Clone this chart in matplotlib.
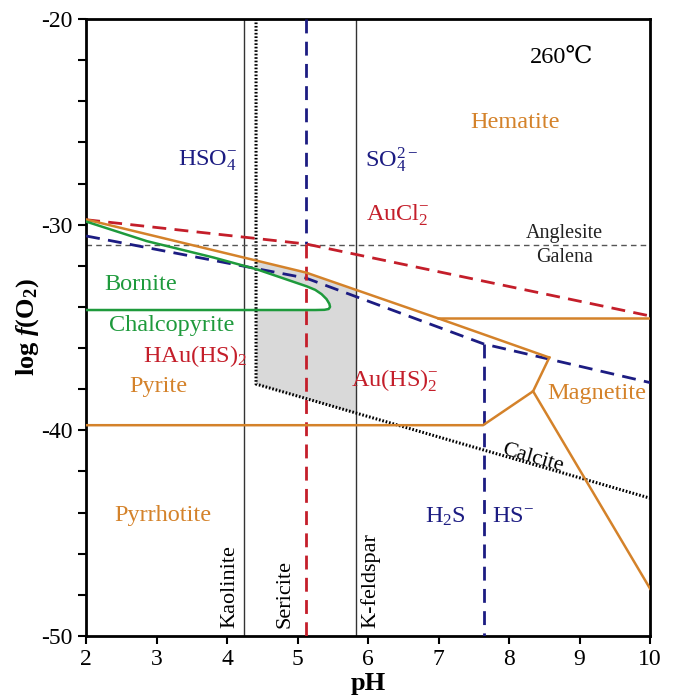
import numpy as np
import matplotlib
matplotlib.use("Agg")
import matplotlib.pyplot as plt

# ---------------------------------------------------------------------------
# Phase boundaries (pH, log fO2)
# ---------------------------------------------------------------------------
PH_KAOLINITE = 4.24
PH_KFELDSPAR = 5.83
PH_HSO4_SO4 = 5.12          # HSO4-/SO4 2- and HAu(HS)2/Au(HS)2- boundary
PH_H2S_HS = 7.64
ANGLESITE_LF = -31.0

# Au complex boundary (red dashed)
red_ph = [2.0, 5.12, 10.0]
red_lf = [-29.76, -30.94, -34.44]

# sulfate / sulfide boundary (blue dashed)
blue_ph = [2.0, 5.12, 7.64, 10.0]
blue_lf = [-30.55, -32.60, -35.80, -37.68]

# pyrite upper boundary (orange)
py_top_ph = [2.0, 5.12, 6.99, 8.57]
py_top_lf = [-29.75, -32.33, -34.55, -36.46]
hem_mag_ph = [6.99, 10.0]
hem_mag_lf = [-34.55, -34.55]
py_mag_ph = [8.57, 8.34, 7.63, 2.0]
py_mag_lf = [-36.46, -38.10, -39.75, -39.75]
po_mag_ph = [8.34, 10.0]
po_mag_lf = [-38.10, -47.70]

# calcite (black dotted)
cal_ph = [4.41, 4.41, 10.0]
cal_lf = [-20.0, -37.75, -43.30]

# bornite / chalcopyrite (green)
bn_ph = [2.0, 2.86, 3.81, 4.42, 5.13, 5.25, 5.34, 5.41, 5.45, 5.46, 5.44, 5.38, 5.25, 2.0]
bn_lf = [-29.85, -30.80, -31.60, -32.17, -33.00, -33.17, -33.38, -33.62,
         -33.85, -34.00, -34.10, -34.14, -34.15, -34.15]

ORANGE = "#d4822a"
RED = "#c41e2a"
NAVY = "#1c1c82"
GREEN = "#1e9a3c"

plt.rcParams["font.family"] = ["Liberation Serif", "DejaVu Serif", "Noto Sans CJK SC"]
plt.rcParams["mathtext.fontset"] = "custom"
plt.rcParams["mathtext.rm"] = "Liberation Serif"
plt.rcParams["mathtext.it"] = "Liberation Serif:italic"
plt.rcParams["mathtext.bf"] = "Liberation Serif:bold"
plt.rcParams["mathtext.bfit"] = "Liberation Serif:italic:bold"
plt.rcParams["lines.scale_dashes"] = False
plt.rcParams["axes.unicode_minus"] = False

fig = plt.figure(figsize=(6.73, 6.98), dpi=100)
ax = fig.add_axes([0.128, 0.0888, 0.838, 0.884])
ax.set_xlim(2, 10)
ax.set_ylim(-50, -20)

# grey field: between pyrite top and calcite, from the calcite edge to K-feldspar
gx = np.linspace(cal_ph[1], PH_KFELDSPAR, 60)
top = np.interp(gx, py_top_ph, py_top_lf)
bot = np.interp(gx, cal_ph[1:], cal_lf[1:])
ax.fill_between(gx, bot, top, color="#d9d9d9", lw=0, zorder=0.5)
ax.fill(bn_ph, bn_lf, color="white", lw=0, zorder=0.6)

# mineral verticals
for x in (PH_KAOLINITE, PH_KFELDSPAR):
    ax.plot([x, x], [-50, -20], color="#333333", lw=1.0, zorder=2)

# calcite
ax.plot(cal_ph, cal_lf, color="black", lw=2.2, dashes=(1.2, 1.3), zorder=2)

# anglesite / galena
ax.plot([2, 10], [ANGLESITE_LF] * 2, color="#555555", lw=1.0, dashes=(4, 3), zorder=2)

# sulfur species (navy dashed)
blue_at = np.interp(PH_H2S_HS, blue_ph, blue_lf)
red_at = np.interp(PH_HSO4_SO4, red_ph, red_lf)
ax.plot(blue_ph, blue_lf, color=NAVY, lw=2.0, dashes=(10, 6), zorder=3)
ax.plot([PH_HSO4_SO4] * 2, [-20, red_at], color=NAVY, lw=2.0, dashes=(10, 6), zorder=3)
ax.plot([PH_H2S_HS] * 2, [blue_at, -50], color=NAVY, lw=2.0, dashes=(10, 6), zorder=3)

# gold complexes (red dashed)
ax.plot(red_ph, red_lf, color=RED, lw=2.0, dashes=(10, 6), zorder=3)
ax.plot([PH_HSO4_SO4] * 2, [red_at, -50], color=RED, lw=2.0, dashes=(10, 6), zorder=3)

# iron minerals (orange)
for xs, ys in ((py_top_ph, py_top_lf), (hem_mag_ph, hem_mag_lf),
               (py_mag_ph, py_mag_lf), (po_mag_ph, po_mag_lf)):
    ax.plot(xs, ys, color=ORANGE, lw=1.8, zorder=4)

# copper minerals (green)
ax.plot(bn_ph, bn_lf, color=GREEN, lw=1.8, zorder=4)

# labels
fs = 17.5
ax.text(8.75, -21.85, "260\u2103", fontsize=fs, ha="center", va="center")
ax.text(8.09, -25.05, "Hematite", color=ORANGE, fontsize=fs, ha="center", va="center")
ax.text(3.73, -26.9, r"HSO$_4^{-}$", color=NAVY, fontsize=fs, ha="center", va="center")
ax.text(6.33, -26.9, r"SO$_4^{2-}$", color=NAVY, fontsize=fs, ha="center", va="center")
ax.text(6.42, -29.55, r"AuCl$_2^{-}$", color=RED, fontsize=fs, ha="center", va="center")
ax.text(8.79, -30.45, "Anglesite", fontsize=14.5, ha="center", va="center", color="#222222")
ax.text(8.79, -31.6, "Galena", fontsize=14.5, ha="center", va="center", color="#222222")
ax.text(2.77, -32.9, "Bornite", color=GREEN, fontsize=fs, ha="center", va="center")
ax.text(3.22, -34.9, "Chalcopyrite", color=GREEN, fontsize=fs, ha="center", va="center")
ax.text(3.55, -36.4, r"HAu(HS)$_2$", color=RED, fontsize=fs, ha="center", va="center")
ax.text(3.02, -37.85, "Pyrite", color=ORANGE, fontsize=fs, ha="center", va="center")
ax.text(6.38, -37.6, r"Au(HS)$_2^{-}$", color=RED, fontsize=fs, ha="center", va="center")
ax.text(9.25, -38.2, "Magnetite", color=ORANGE, fontsize=fs, ha="center", va="center")
ax.text(8.33, -41.35, "Calcite", fontsize=16, ha="center", va="center", rotation=-16)
ax.text(3.09, -44.15, "Pyrrhotite", color=ORANGE, fontsize=fs, ha="center", va="center")
ax.text(7.09, -44.2, r"H$_2$S", color=NAVY, fontsize=fs, ha="center", va="center")
ax.text(8.05, -44.2, r"HS$^{-}$", color=NAVY, fontsize=fs, ha="center", va="center")
ax.text(4.04, -49.6, "Kaolinite", fontsize=16, rotation=90, ha="center", va="bottom")
ax.text(4.82, -49.6, "Sericite", fontsize=16, rotation=90, ha="center", va="bottom")
ax.text(6.03, -49.6, "K-feldspar", fontsize=16, rotation=90, ha="center", va="bottom")

# axes styling
ax.set_xticks(range(2, 11))
ax.set_yticks([-50, -40, -30, -20])
ax.set_yticks(np.arange(-50, -19, 2), minor=True)
ax.tick_params(axis="both", direction="out", labelsize=17, width=1.5, length=6)
ax.tick_params(axis="y", which="minor", direction="out", width=1.5, length=6)
for s in ax.spines.values():
    s.set_linewidth(2.0)
ax.set_xlabel("pH", fontsize=19, fontweight="bold", labelpad=1)
ax.set_ylabel(r"$\mathbf{log}\ \mathbfit{f}\mathbf{(O_2)}$", fontsize=19, labelpad=0)

fig.savefig("out.png", dpi=100)
